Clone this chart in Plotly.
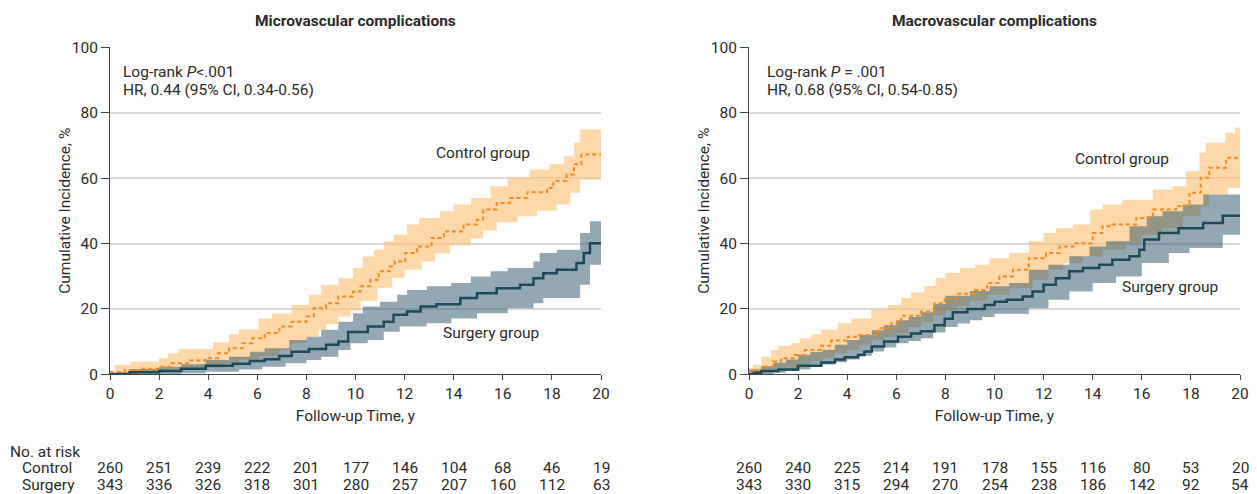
import plotly.graph_objects as go

# ---------------- data (step start times, cumulative incidence %) ----------------
# Microvascular complications
micro_ctrl_t = [0, 0.6, 1.2, 2, 2.5, 3.2, 3.9, 4.4, 4.85, 5.4, 5.8, 6.3, 6.9, 7.4, 8, 8.3, 8.8, 9.3, 9.9, 10.2,
                10.6, 10.95, 11.4, 11.6, 12.03, 12.5, 13.1, 13.6, 14.4, 14.95, 15.2, 15.75, 16.3, 17, 17.8,
                18.06, 18.6, 18.9, 19.2, 20]
micro_ctrl = [0.6, 1.3, 1.7, 2.3, 3.4, 4.2, 4.9, 6.4, 8, 9.5, 11, 12.6, 14.6, 16.1, 17.7, 20.2, 21.7, 23.8, 25.3, 26.9,
              28.9, 31.5, 33, 34.5, 37.1, 39.1, 41.7, 43.7, 45.8, 47.3, 50.4, 52.4, 53.9, 55.7, 57,
              59.1, 61.1, 64.2, 67.2, 67.2]
micro_ctrl_up_t = [0, 0.2, 0.85, 2, 2.35, 2.8, 4.2, 4.85, 5.25, 6.05, 6.6, 7.4, 8.1, 8.6, 9.3, 9.9, 10.3, 10.75,
                   11.15, 11.55, 12.1, 12.6, 13.45, 14, 14.7, 15.5, 16.2, 17.1, 17.9, 18.5, 18.9, 19.15, 20]
micro_ctrl_up = [0.5, 2.9, 3.9, 4.9, 6.4, 7.7, 9.8, 12.3, 13.8, 17.1, 18.5, 21.2, 24.3, 27.3, 29.4, 32.5, 36, 38.1,
                 40.7, 42.7, 45.8, 47.8, 49.9, 51.9, 53.9, 57.5, 60.1, 62.6, 64.2, 66.7, 70.8, 74.9, 74.9]
micro_ctrl_lo_t = [0, 1.2, 2, 2.9, 3.9, 4.7, 5.25, 6.05, 6.9, 7.4, 8, 8.5, 8.8, 9.3, 9.8, 10.2, 10.9, 11.5, 12,
                   12.7, 13.25, 13.85, 14.7, 15.2, 15.75, 16.6, 17.4, 18.2, 18.75, 19.15, 20]
micro_ctrl_lo = [0, 0.5, 0.8, 1.5, 2.1, 3.4, 4.4, 5.6, 7.4, 9.5, 11.5, 13.6, 15.4, 17.7, 19.5, 22.5, 26.5, 29.5, 32,
                 34.5, 37, 39.5, 41.5, 44, 46.5, 48.3, 50, 51.9, 55.5, 59.6, 59.6]

micro_surg_t = [0, 0.3, 0.8, 2, 2.9, 3.9, 5, 5.7, 6.3, 6.9, 7.4, 8.1, 8.8, 9.3, 9.7, 10.5, 11.15, 11.55, 12.1,
                12.65, 13.3, 14.27, 14.95, 15.75, 16.7, 17.25, 17.65, 18.2, 19, 19.3, 19.55, 20]
micro_surg = [0, 0.1, 0.6, 1, 1.7, 2.6, 3.2, 4.1, 4.6, 5.6, 6.9, 7.7, 9, 10, 12.9, 14.6, 16.1, 18.2, 19.2,
              20.7, 21.4, 23.3, 24.8, 26.3, 27.4, 29.4, 30.9, 32, 34, 37.1, 40.1, 40.1]
micro_surg_up_t = [0, 0.85, 2, 2.9, 3.9, 4.85, 5.7, 6.3, 7.3, 8, 8.6, 9.3, 9.9, 10.3, 11, 11.7, 12.1, 12.9, 13.9,
                   14.7, 15.5, 16.2, 17.25, 17.5, 18.2, 19.15, 19.55, 20]
micro_surg_up = [0.5, 1.6, 2.3, 3.1, 4.4, 5.4, 6.9, 8, 10.5, 11.5, 13.6, 16.1, 18.7, 20.7, 22.2, 24.3, 25.8, 26.9, 27.9,
                 29.9, 31.5, 32.5, 34.5, 37.1, 38.1, 43.2, 46.8, 47.5]
micro_surg_lo_t = [0, 2.9, 3.9, 5.25, 6.2, 7.15, 8, 8.6, 9.3, 9.8, 10.5, 11.15, 11.8, 12.9, 13.9, 14.95, 16.2,
                   17.25, 17.65, 19.15, 19.55, 20]
micro_surg_lo = [0, 0.3, 0.8, 1.5, 2.3, 3.4, 4.4, 5.4, 7.4, 9.5, 10.5, 13, 14.6, 15.6, 17.1, 18.7, 20.2,
                 21.7, 23.3, 27.4, 33.5, 33.5]

# Macrovascular complications
macro_ctrl_t = [0, 0.23, 0.64, 0.98, 1.3, 1.86, 2.27, 2.94, 3.35, 4.03, 4.44, 5.25, 5.8, 6.2, 7, 7.55, 7.97, 8.5,
                9.2, 9.7, 10.2, 10.75, 11.4, 12.1, 12.65, 13.3, 14, 14.4, 14.8, 15.77, 16.45, 17.4, 17.94, 18.4,
                18.75, 19.43, 20]
macro_ctrl = [0.5, 1.3, 2.3, 3.9, 4.9, 5.9, 7.4, 8.7, 10.3, 11.5, 12, 14.1, 15.6, 17.9, 19.2, 21.7, 23.3, 24.6,
              25.8, 27.9, 29.9, 32, 35.5, 37.1, 39.1, 40.1, 43.2, 45.3, 45.8, 47.8, 50.4, 51.4, 55.5, 60.1,
              63.2, 66.2, 66.2]
macro_ctrl_up_t = [0, 0.16, 0.5, 0.9, 1.2, 1.72, 2.06, 2.54, 2.94, 3.62, 4.17, 4.98, 5.66, 6.2, 6.6, 7.15, 7.6, 8,
                   8.6, 9.2, 9.8, 10.6, 11.4, 12, 12.5, 13.2, 13.9, 14.4, 15.2, 16.45, 17.25, 17.8, 18.35, 18.6,
                   19.4, 19.8, 20]
macro_ctrl_up = [2, 2.9, 5.4, 7.4, 8.7, 9.5, 11, 12.2, 13.6, 15.6, 17.1, 19.7, 21.2, 23.3, 25, 27, 29.5, 31,
                 32.5, 33.5, 35.5, 37.1, 40.7, 43.2, 44.7, 45.8, 50.4, 51.9, 53.4, 56.5, 57.5, 62.1, 67.8, 70.8,
                 73.9, 75.5, 75.5]
macro_ctrl_lo_t = [0, 0.5, 1, 1.5, 2, 2.5, 3, 3.5, 4, 4.5, 5, 5.5, 6, 6.5, 7, 7.5, 8, 8.5, 9, 9.7, 10.6, 11.55,
                   12.2, 12.8, 13.6, 14.4, 15.35, 16, 16.85, 17.67, 18.4, 18.75, 19.5, 20]
macro_ctrl_lo = [0, 0.5, 1, 2, 3, 4, 5, 6.5, 7.5, 9, 10.5, 11.5, 12.5, 14.5, 16, 18, 19.5, 21, 22.5, 24.3, 26.3,
                 28.9, 32, 34, 36.1, 38.1, 40.1, 42.7, 44.7, 48.3, 51.4, 55, 57, 57]

macro_surg_t = [0, 0.2, 0.5, 1.2, 2, 2.94, 3.5, 3.9, 4.44, 4.7, 5, 5.5, 6.07, 6.6, 7, 7.55, 7.97, 8.3, 8.9, 9.6,
                10, 10.5, 11.15, 11.55, 12, 12.5, 13.05, 13.6, 14.27, 14.8, 15.5, 15.9, 16.1, 16.7, 17.5, 18.5,
                19.3, 20]
macro_surg = [0, 0.5, 1, 1.5, 2.6, 3.6, 4.5, 5.2, 5.9, 7, 8.5, 10, 11.5, 12.5, 13.2, 15, 17, 19, 20, 21.2,
              22.2, 22.8, 23.8, 25.3, 27.4, 29.4, 31.5, 32.5, 33.5, 35, 36.1, 38.1, 41.2, 43.2, 44.7, 46.3,
              48.5, 48.5]
macro_surg_up_t = [0, 0.5, 1, 1.5, 2, 2.5, 3, 3.5, 4, 4.5, 5, 5.5, 6, 6.5, 7, 7.5, 8, 9, 9.8, 10.6, 11.4, 12.2,
                   13.05, 13.87, 14.55, 15.5, 16.2, 16.85, 17.67, 18.5, 20]
macro_surg_up = [1.5, 2.5, 3.5, 4.5, 6, 6.8, 7.5, 9, 10.5, 12, 13.5, 15, 16.5, 17.5, 19, 21.5, 24, 25.5, 26.9,
                 27.9, 32, 33.5, 36.1, 39.1, 40.7, 45.3, 48.3, 49.9, 51.9, 55, 55]
macro_surg_lo_t = [0, 1, 1.5, 2, 2.5, 3, 3.5, 4, 4.5, 5, 5.5, 6, 6.5, 7, 7.5, 8, 8.5, 9, 9.5, 10, 11.4, 12.2,
                   13.05, 14, 14.95, 16, 17.1, 17.94, 19.3, 20]
macro_surg_lo = [0, 0.5, 1, 1.5, 2.2, 3, 3.7, 4.5, 5.7, 7, 8.2, 9.5, 10.2, 11, 12.8, 14.5, 15.5, 16.5, 17.5,
                 18.5, 20.2, 22.8, 25.3, 27.9, 29.9, 34, 37.1, 38.6, 42.7, 42.7]

# Numbers at risk
risk_times = [0, 2, 4, 6, 8, 10, 12, 14, 16, 18, 20]
micro_risk_ctrl = [260, 251, 239, 222, 201, 177, 146, 104, 68, 46, 19]
micro_risk_surg = [343, 336, 326, 318, 301, 280, 257, 207, 160, 112, 63]
macro_risk_ctrl = [260, 240, 225, 214, 191, 178, 155, 116, 80, 53, 20]
macro_risk_surg = [343, 330, 315, 294, 270, 254, 238, 186, 142, 92, 54]

y_ticks = [0, 20, 40, 60, 80, 100]
titles = ["Microvascular complications", "Macrovascular complications"]
stats = [("Log-rank <i>P</i><.001", "HR, 0.44 (95% CI, 0.34-0.56)"),
         ("Log-rank <i>P</i> = .001", "HR, 0.68 (95% CI, 0.54-0.85)")]

# ---------------- style ----------------
FONT = "Roboto, Liberation Sans, DejaVu Sans, sans-serif"
FS = 15.5
TXT = "#2b2b2b"
ORANGE = "#F28A1E"
ORANGE_BAND = "rgba(253,190,110,0.6)"
TEAL = "#1E4A58"
TEAL_BAND = "rgba(40,82,102,0.5)"

fig = go.Figure()

panels = [
    ("x", "y", micro_ctrl_t, micro_ctrl, micro_ctrl_up_t, micro_ctrl_up, micro_ctrl_lo_t, micro_ctrl_lo,
     micro_surg_t, micro_surg, micro_surg_up_t, micro_surg_up, micro_surg_lo_t, micro_surg_lo),
    ("x2", "y2", macro_ctrl_t, macro_ctrl, macro_ctrl_up_t, macro_ctrl_up, macro_ctrl_lo_t, macro_ctrl_lo,
     macro_surg_t, macro_surg, macro_surg_up_t, macro_surg_up, macro_surg_lo_t, macro_surg_lo),
]

for (xa, ya, ct, cv, cut, cuv, clt, clv, st, sv, sut, suv, slt, slv) in panels:
    fig.add_trace(go.Scatter(x=clt, y=clv, xaxis=xa, yaxis=ya, mode="lines",
                             line=dict(width=0, shape="hv"), hoverinfo="skip", showlegend=False))
    fig.add_trace(go.Scatter(x=cut, y=cuv, xaxis=xa, yaxis=ya, mode="lines",
                             line=dict(width=0, shape="hv"), fill="tonexty", fillcolor=ORANGE_BAND,
                             hoverinfo="skip", showlegend=False))
    fig.add_trace(go.Scatter(x=slt, y=slv, xaxis=xa, yaxis=ya, mode="lines",
                             line=dict(width=0, shape="hv"), hoverinfo="skip", showlegend=False))
    fig.add_trace(go.Scatter(x=sut, y=suv, xaxis=xa, yaxis=ya, mode="lines",
                             line=dict(width=0, shape="hv"), fill="tonexty", fillcolor=TEAL_BAND,
                             hoverinfo="skip", showlegend=False))
    fig.add_trace(go.Scatter(x=ct, y=cv, xaxis=xa, yaxis=ya, mode="lines",
                             line=dict(color=ORANGE, width=2, shape="hv", dash="4px,3px"),
                             name="Control group", showlegend=False))
    fig.add_trace(go.Scatter(x=st, y=sv, xaxis=xa, yaxis=ya, mode="lines",
                             line=dict(color=TEAL, width=2.5, shape="hv"),
                             name="Surgery group", showlegend=False))

W, H = 1257, 494
x1_dom = [110 / W, 601 / W]
x2_dom = [749 / W, 1240 / W]
y_dom = [1 - 374.3 / H, 1 - 47.3 / H]

axis_common_x = dict(range=[0, 20], tickvals=risk_times, ticks="outside", ticklen=5, automargin=False,
                     tickcolor="#444", showline=True, linecolor="#444", linewidth=1,
                     showgrid=False, zeroline=False, fixedrange=True,
                     tickfont=dict(family=FONT, size=FS, color=TXT),
                     title=dict(text="Follow-up Time, y", font=dict(family=FONT, size=FS, color=TXT), standoff=8))
axis_common_y = dict(range=[0, 100], tickvals=y_ticks, ticks="outside", ticklen=8, automargin=False,
                     tickcolor="#444", showline=True, linecolor="#444", linewidth=1,
                     showgrid=True, gridcolor="#d9d9d9", gridwidth=2, zeroline=False, fixedrange=True,
                     tickfont=dict(family=FONT, size=FS, color=TXT))

fig.update_layout(
    width=W, height=H, margin=dict(l=0, r=0, t=0, b=0, autoexpand=False),
    paper_bgcolor="white", plot_bgcolor="white",
    font=dict(family=FONT, size=FS, color=TXT),
    xaxis=dict(domain=x1_dom, anchor="y", **axis_common_x),
    yaxis=dict(domain=y_dom, anchor="x", **axis_common_y),
    xaxis2=dict(domain=x2_dom, anchor="y2", **axis_common_x),
    yaxis2=dict(domain=y_dom, anchor="x2", **axis_common_y),
)

ann = []
for i, (xr, yr) in enumerate([("x", "y"), ("x2", "y2")]):
    dom = x1_dom if i == 0 else x2_dom
    ann.append(dict(text="<b>" + titles[i] + "</b>", x=(dom[0] + dom[1]) / 2, y=1 - 21 / H,
                    xref="paper", yref="paper", showarrow=False, font=dict(size=15.5),
                    xanchor="center", yanchor="middle"))
    # y-axis title
    ann.append(dict(text="Cumulative Incidence, %", x=dom[0] - 45 / W, y=(y_dom[0] + y_dom[1]) / 2,
                    xref="paper", yref="paper", showarrow=False, textangle=-90,
                    xanchor="center", yanchor="middle"))
    tx = 0.45 if i == 0 else 0.66
    ann.append(dict(text=stats[i][0], x=tx, y=92.4, xref=xr, yref=yr, showarrow=False,
                    xanchor="left", yanchor="middle"))
    ann.append(dict(text=stats[i][1], x=tx, y=86.9, xref=xr, yref=yr, showarrow=False,
                    xanchor="left", yanchor="middle"))

ann.append(dict(text="Control group", x=15.2, y=67.7, xref="x", yref="y", showarrow=False))
ann.append(dict(text="Surgery group", x=15.5, y=12.6, xref="x", yref="y", showarrow=False))
ann.append(dict(text="Control group", x=15.2, y=65.8, xref="x2", yref="y2", showarrow=False))
ann.append(dict(text="Surgery group", x=17.15, y=26.7, xref="x2", yref="y2", showarrow=False))

# Numbers at risk table
ann.append(dict(text="No. at risk", x=8 / W, y=1 - 452 / H, xref="paper", yref="paper",
                showarrow=False, xanchor="left", yanchor="middle"))
ann.append(dict(text="Control", x=20 / W, y=1 - 468 / H, xref="paper", yref="paper",
                showarrow=False, xanchor="left", yanchor="middle"))
ann.append(dict(text="Surgery", x=20 / W, y=1 - 485 / H, xref="paper", yref="paper",
                showarrow=False, xanchor="left", yanchor="middle"))
for xr, rc, rs in [("x", micro_risk_ctrl, micro_risk_surg), ("x2", macro_risk_ctrl, macro_risk_surg)]:
    for t, c, s in zip(risk_times, rc, rs):
        ann.append(dict(text=str(c), x=t, y=1 - 468 / H, xref=xr, yref="paper", showarrow=False,
                        xanchor="center", yanchor="middle"))
        ann.append(dict(text=str(s), x=t, y=1 - 485 / H, xref=xr, yref="paper", showarrow=False,
                        xanchor="center", yanchor="middle"))

fig.update_layout(annotations=ann)
fig.write_html("out.html")
